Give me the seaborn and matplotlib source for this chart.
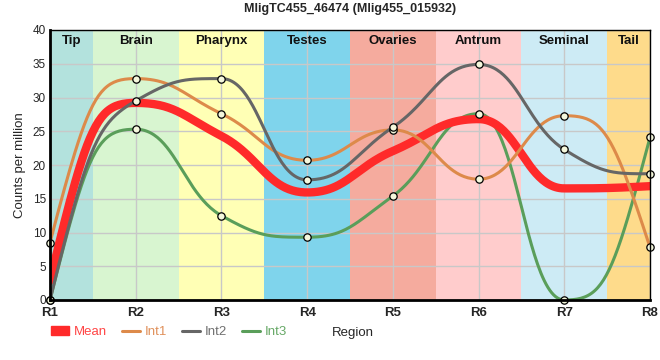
import numpy as np
import pandas as pd
import seaborn as sns
import matplotlib.pyplot as plt
from matplotlib.lines import Line2D
from matplotlib.patches import Patch

# données
regions = ["R1", "R2", "R3", "R4", "R5", "R6", "R7", "R8"]
tissues = ["Tip", "Brain", "Pharynx", "Testes", "Ovaries", "Antrum", "Seminal", "Tail"]
int1 = [8.5, 32.8, 27.6, 20.7, 25.2, 17.9, 27.3, 7.8]
int2 = [0.0, 29.5, 32.8, 17.8, 25.6, 34.9, 22.3, 18.7]
int3 = [0.0, 25.3, 12.5, 9.3, 15.4, 27.6, 0.0, 24.1]
mean = list(np.mean([int1, int2, int3], axis=0))

band_colors = ["#b3e2dd", "#d8f5d0", "#ffffb5", "#7fd4ec",
               "#f5ab9e", "#ffcccc", "#cdebf5", "#fedb8b"]
colors = {"Mean": "#ff2a2a", "Int1": "#dd8a4a", "Int2": "#666666", "Int3": "#5a9e5a"}
label_colors = {"Mean": "#ff4545", "Int1": "#e0905a", "Int2": "#707070", "Int3": "#66a866"}


def clamp_between(v, a, b):
    return min(max(v, min(a, b)), max(a, b))


def spline_curve(ys, n=50, c=0.45):
    # lissage type "spline" : points de contrôle à c du segment, sans faux extrêmes
    y = np.asarray(ys, dtype=float)
    x = np.arange(len(y), dtype=float)
    k = len(y)
    ly, ry = y.copy(), y.copy()
    for i in range(1, k - 1):
        slope = (y[i + 1] - y[i - 1]) / 2
        lcy = y[i] - c * slope
        rcy = y[i] + c * slope
        if lcy > y[i - 1] and lcy > y[i]:
            lcy = max(y[i - 1], y[i]); rcy = 2 * y[i] - lcy
        elif lcy < y[i - 1] and lcy < y[i]:
            lcy = min(y[i - 1], y[i]); rcy = 2 * y[i] - lcy
        if rcy > y[i + 1] and rcy > y[i]:
            rcy = max(y[i + 1], y[i]); lcy = 2 * y[i] - rcy
        elif rcy < y[i + 1] and rcy < y[i]:
            rcy = min(y[i + 1], y[i]); lcy = 2 * y[i] - rcy
        ly[i], ry[i] = lcy, rcy
    # extrémités : pente 2*corde - pente voisine, bornée
    m1 = (ry[1] - y[1]) / c
    m0 = 2 * (y[1] - y[0]) - m1
    ry[0] = clamp_between(y[0] + c * m0, y[0], y[1])
    mn = (y[-2] - ly[-2]) / c
    me = 2 * (y[-1] - y[-2]) - mn
    ly[-1] = clamp_between(y[-1] - c * me, y[-1], y[-2])
    xs, out = [], []
    for i in range(k - 1):
        t = np.linspace(0, 1, n, endpoint=(i == k - 2))
        b0, b1, b2, b3 = (1 - t)**3, 3 * (1 - t)**2 * t, 3 * (1 - t) * t**2, t**3
        xs.extend(b0 * x[i] + b1 * (x[i] + c) + b2 * (x[i + 1] - c) + b3 * x[i + 1])
        out.extend(b0 * y[i] + b1 * ry[i] + b2 * ly[i + 1] + b3 * y[i + 1])
    return np.array(xs), np.array(out)


series = {"Mean": mean, "Int1": int1, "Int2": int2, "Int3": int3}

sns.set_theme(style="white")
plt.rcParams['font.family'] = ['Liberation Sans', 'DejaVu Sans']

fig = plt.figure(figsize=(6.6, 3.6), dpi=100)
ax = fig.add_axes([50 / 660, 60 / 360, 600 / 660, 270 / 360])

# bandes de fond par tissu
for i, (name, col) in enumerate(zip(tissues, band_colors)):
    x0 = max(i - 0.5, 0)
    x1 = min(i + 0.5, 7)
    ax.axvspan(x0, x1, color=col, zorder=0, lw=0)
    ax.text((x0 + x1) / 2, 39.3, name, ha='center', va='top', fontsize=9.5,
            fontweight='bold', color='#111111', zorder=5)

ax.grid(True, color='#c8c8c8', lw=1, zorder=0.5)
ax.set_axisbelow(True)

# lignes lissées
widths = {"Mean": 6.0, "Int1": 2.2, "Int2": 2.2, "Int3": 2.2}
zorders = {"Int3": 2, "Mean": 3, "Int1": 4, "Int2": 4.5}
for name in ["Int3", "Mean", "Int1", "Int2"]:
    xs, ys = spline_curve(series[name])
    df = pd.DataFrame({"x": xs, "y": ys})
    sns.lineplot(data=df, x="x", y="y", ax=ax, color=colors[name], lw=widths[name],
                 sort=False, estimator=None, zorder=zorders[name], legend=False)

# points
pts = pd.DataFrame({"x": np.tile(np.arange(len(regions)), 3),
                    "y": int1 + int2 + int3})
sns.scatterplot(data=pts, x="x", y="y", ax=ax, s=28, color='#f4f7dc',
                edgecolor='black', linewidth=0.9, zorder=6, clip_on=False, legend=False)

ax.set_xlim(0, 7)
ax.set_ylim(0, 40)
ax.set_xticks(range(len(regions)))
ax.set_xticklabels(regions, fontsize=9.5, fontweight='bold')
ax.set_yticks(range(0, 41, 5))
ax.tick_params(axis='y', labelsize=8.5, length=0, pad=3)
ax.tick_params(axis='x', length=0, pad=5)
for side in ["left", "bottom"]:
    ax.spines[side].set_linewidth(2)
for side in ["top", "right"]:
    ax.spines[side].set_linewidth(1)
for sp in ax.spines.values():
    sp.set_color('black')
    sp.set_zorder(7)

ax.set_xlabel("Region", fontsize=9.5, labelpad=6, x=0.505)
ax.set_ylabel("Counts per million", fontsize=9.5, labelpad=5)
ax.set_title("MligTC455_46474 (Mlig455_015932)", fontsize=9, fontweight='bold', pad=13)

handles = [Patch(color=colors["Mean"], label="Mean")]
for name in ["Int1", "Int2", "Int3"]:
    handles.append(Line2D([0], [0], color=colors[name], lw=2.2, label=name))
leg = fig.legend(handles=handles, loc='lower left', bbox_to_anchor=(51 / 660, 22 / 360),
                 ncol=4, frameon=False, fontsize=9.5, handlelength=1.4, handleheight=0.6,
                 handletextpad=0.35, columnspacing=1.1, borderaxespad=0, borderpad=0,
                 labelcolor=[label_colors[h.get_label()] for h in handles])

plt.savefig("out.png", dpi=100)
